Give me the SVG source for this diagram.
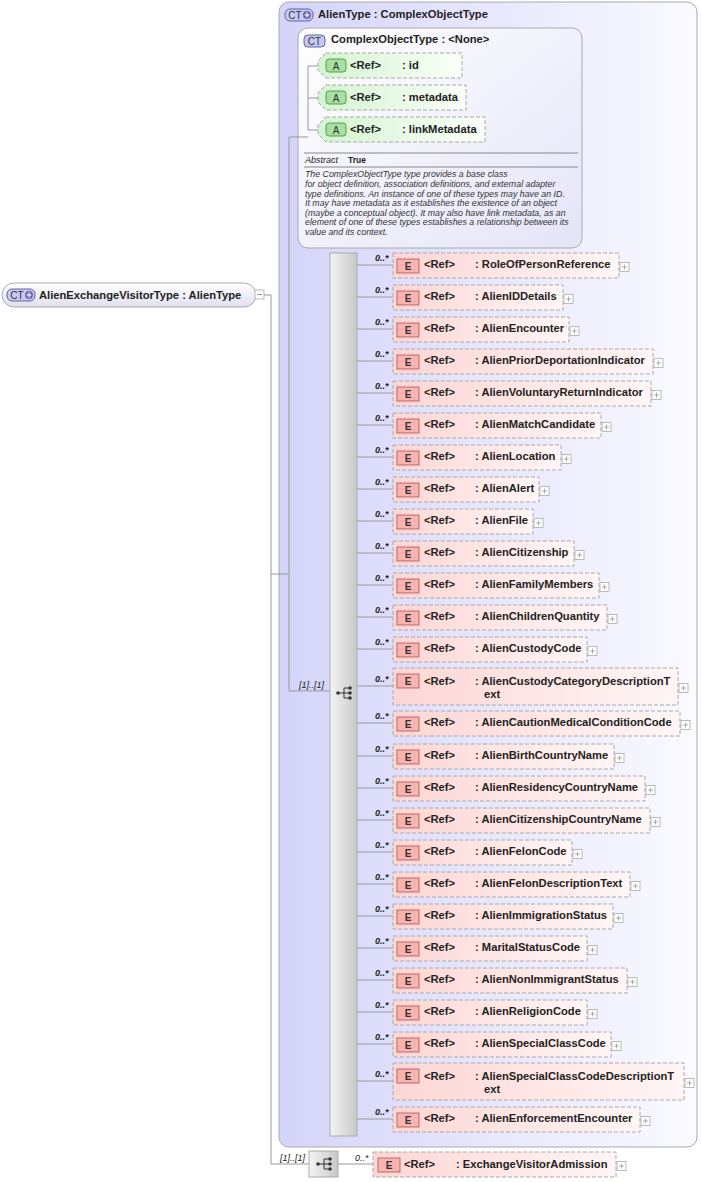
<svg xmlns="http://www.w3.org/2000/svg" width="701" height="1182" viewBox="0 0 701 1182">
<defs>
<linearGradient id="gOuter" x1="0" x2="1" y1="0" y2="0"><stop offset="0" stop-color="#d4d4fa"/><stop offset="1" stop-color="#fafaff"/></linearGradient>
<linearGradient id="gInner" x1="0" x2="1" y1="0" y2="1"><stop offset="0" stop-color="#ffffff"/><stop offset="1" stop-color="#e4e4f8"/></linearGradient>
<linearGradient id="gEl" x1="0" x2="1" y1="0" y2="0"><stop offset="0" stop-color="#fdd6d4"/><stop offset="1" stop-color="#fff6f5"/></linearGradient>
<linearGradient id="gAt" x1="0" x2="1" y1="0" y2="0"><stop offset="0" stop-color="#d4f4d0"/><stop offset="1" stop-color="#fafff8"/></linearGradient>
<linearGradient id="gSeq" x1="0" x2="1" y1="0" y2="0"><stop offset="0" stop-color="#f4f4f4"/><stop offset="1" stop-color="#c8c8c8"/></linearGradient>
<linearGradient id="gRoot" x1="0" x2="0" y1="0" y2="1"><stop offset="0" stop-color="#ffffff"/><stop offset="1" stop-color="#e0e0f0"/></linearGradient>
<g id="eIcon"><rect x="0" y="0" width="22" height="14" fill="#f8b4b0" stroke="#b05050" stroke-width="0.8"/><text x="11" y="11" class="ic">E</text></g>
<g id="plus"><rect x="0" y="-4.5" width="9" height="9" fill="#fff" stroke="#aaa" stroke-width="0.8"/><path d="M2 0h5M4.5 -2.5v5" stroke="#999" stroke-width="0.8"/></g>
<g id="seqIcon"><path d="M-7 0h6M-1 -5v10M-1 -5h5M-1 0h5M-1 5h5" stroke="#333" stroke-width="1" fill="none"/><circle cx="-7" cy="0" r="1.8" fill="#333"/><circle cx="5" cy="-5" r="1.8" fill="#333"/><circle cx="5" cy="0" r="1.8" fill="#333"/><circle cx="5" cy="5" r="1.8" fill="#333"/></g>
<g id="ctPlus"><rect x="0" y="0" width="28" height="12" rx="5" fill="#c8c8f4" stroke="#55559a" stroke-width="0.9"/><text x="10" y="10" class="ic">CT</text><circle cx="22" cy="6" r="4" fill="#6a6ab0"/><path d="M19.5 6h5M22 3.5v5" stroke="#fff" stroke-width="1.2"/></g>
</defs>
<style>
text{font-family:"Liberation Sans",Arial,sans-serif;fill:#222}
.b{font-size:11.2px;font-weight:bold}
.ic{font-size:10px;text-anchor:middle;fill:#333}
.m{font-size:9px;font-style:italic}
.d{font-size:8.8px;font-style:italic;fill:#333}
.el{fill:url(#gEl);stroke:#aaa;stroke-dasharray:4,2;stroke-width:1}
.at{fill:url(#gAt);stroke:#aaa;stroke-dasharray:4,2;stroke-width:1}
.ln{stroke:#999;stroke-width:1;fill:none}
</style>

<g id="AlienType">
<rect x="279" y="2" width="418" height="1145" rx="10" fill="url(#gOuter)" stroke="#aaa"/>
<use href="#ctPlus" x="285" y="9"/>
<text x="318" y="18" class="b">AlienType : ComplexObjectType</text>
</g>
<g id="ComplexObjectType">
<rect x="298" y="28" width="284" height="220" rx="10" fill="url(#gInner)" stroke="#aaa"/>
<rect x="304" y="35" width="21" height="12" rx="4" fill="#c8c8f4" stroke="#55559a" stroke-width="0.9"/><text x="314.5" y="45" class="ic">CT</text>
<text x="331" y="43" class="b">ComplexObjectType : &lt;None&gt;</text>
<line x1="304" y1="153" x2="578" y2="153" stroke="#888"/>
<text x="305" y="163" class="m">Abstract</text><text x="348" y="163" style="font-size:8.5px;font-weight:bold">True</text>
<line x1="304" y1="167" x2="578" y2="167" stroke="#888"/>
<text class="d"><tspan x="305" y="177">The ComplexObjectType type provides a base class</tspan><tspan x="305" y="187">for object definition, association definitions, and external adapter</tspan><tspan x="305" y="196.5">type definitions. An instance of one of these types may have an ID.</tspan><tspan x="305" y="206">It may have metadata as it establishes the existence of an object</tspan><tspan x="305" y="215.5">(maybe a conceptual object). It may also have link metadata, as an</tspan><tspan x="305" y="225">element of one of these types establishes a relationship between its</tspan><tspan x="305" y="234.5">value and its context.</tspan></text>
</g>
<g id="attr_id"><path class="at" d="M326 53H462V78H326L318 70V61Z"/><rect x="326" y="59" width="20" height="13" rx="3" fill="#a8e0a0" stroke="#3a8a3a" stroke-width="0.8"/><text x="336" y="70" class="ic">A</text><text x="350" y="69" class="b">&lt;Ref&gt;</text><text x="402" y="69" class="b">: id</text></g>
<g id="attr_metadata"><path class="at" d="M326 85H466V110H326L318 102V93Z"/><rect x="326" y="91" width="20" height="13" rx="3" fill="#a8e0a0" stroke="#3a8a3a" stroke-width="0.8"/><text x="336" y="102" class="ic">A</text><text x="350" y="101" class="b">&lt;Ref&gt;</text><text x="402" y="101" class="b">: metadata</text></g>
<g id="attr_linkMetadata"><path class="at" d="M326 117H485V142H326L318 134V125Z"/><rect x="326" y="123" width="20" height="13" rx="3" fill="#a8e0a0" stroke="#3a8a3a" stroke-width="0.8"/><text x="336" y="134" class="ic">A</text><text x="350" y="133" class="b">&lt;Ref&gt;</text><text x="402" y="133" class="b">: linkMetadata</text></g>

<g id="root">
<rect x="2" y="283" width="254" height="24" rx="12" fill="url(#gRoot)" stroke="#aaa"/>
<use href="#ctPlus" x="7" y="289"/>
<text x="39" y="299" class="b">AlienExchangeVisitorType : AlienType</text>
<rect x="255" y="290" width="9" height="9" fill="#fff" stroke="#aaa" stroke-width="0.8"/><path d="M257 294.5h5" stroke="#999"/>
</g>

<g id="sequence1">
<rect x="330" y="253" width="27" height="883" fill="url(#gSeq)" stroke="#aaa"/>
<use href="#seqIcon" x="345" y="693"/>
</g>
<g id="sequence2">
<rect x="309" y="1151" width="29" height="26" fill="url(#gSeq)" stroke="#aaa"/>
<use href="#seqIcon" x="325" y="1164"/>
</g>

<g id="connectors" class="ln">
<path d="M264 295H271V1164H309"/>
<path d="M271 574H289M289 137V691H330M289 137H308M308 66V130M308 66H318M308 98H318M308 130H318"/>
<path d="M338 1164H373"/>
<path d="M357 265H393M357 297H393M357 329H393M357 361H393M357 393H393M357 425H393M357 457H393M357 489H393M357 521H393M357 553H393M357 585H393M357 617H393M357 649H393M357 686H393M357 723H393M357 756H393M357 788H393M357 820H393M357 852H393M357 884H393M357 916H393M357 948H393M357 980H393M357 1012H393M357 1044H393M357 1081H393M357 1119H393"/>
</g>
<g id="labels">
<text x="299" y="688" class="m">[1]..[1]</text>
<text x="280" y="1161" class="m">[1]..[1]</text>
<text x="355" y="1161" class="m">0..*</text>
</g>

<g id="elements" class="b">
<g id="e1"><rect class="el" x="393" y="253" width="226" height="25"/><use href="#eIcon" x="397" y="259"/><text x="375" y="261" class="m">0..*</text><text x="424" y="268">&lt;Ref&gt;</text><text x="475" y="268">: RoleOfPersonReference</text><use href="#plus" x="620" y="267"/></g>
<g id="e2"><rect class="el" x="393" y="285" width="170" height="25"/><use href="#eIcon" x="397" y="291"/><text x="375" y="293" class="m">0..*</text><text x="424" y="300">&lt;Ref&gt;</text><text x="475" y="300">: AlienIDDetails</text><use href="#plus" x="564" y="299"/></g>
<g id="e3"><rect class="el" x="393" y="317" width="176" height="25"/><use href="#eIcon" x="397" y="323"/><text x="375" y="325" class="m">0..*</text><text x="424" y="332">&lt;Ref&gt;</text><text x="475" y="332">: AlienEncounter</text><use href="#plus" x="570" y="331"/></g>
<g id="e4"><rect class="el" x="393" y="349" width="260" height="25"/><use href="#eIcon" x="397" y="355"/><text x="375" y="357" class="m">0..*</text><text x="424" y="364">&lt;Ref&gt;</text><text x="475" y="364">: AlienPriorDeportationIndicator</text><use href="#plus" x="654" y="363"/></g>
<g id="e5"><rect class="el" x="393" y="381" width="258" height="25"/><use href="#eIcon" x="397" y="387"/><text x="375" y="389" class="m">0..*</text><text x="424" y="396">&lt;Ref&gt;</text><text x="475" y="396">: AlienVoluntaryReturnIndicator</text><use href="#plus" x="652" y="395"/></g>
<g id="e6"><rect class="el" x="393" y="413" width="208" height="25"/><use href="#eIcon" x="397" y="419"/><text x="375" y="421" class="m">0..*</text><text x="424" y="428">&lt;Ref&gt;</text><text x="475" y="428">: AlienMatchCandidate</text><use href="#plus" x="602" y="427"/></g>
<g id="e7"><rect class="el" x="393" y="445" width="168" height="25"/><use href="#eIcon" x="397" y="451"/><text x="375" y="453" class="m">0..*</text><text x="424" y="460">&lt;Ref&gt;</text><text x="475" y="460">: AlienLocation</text><use href="#plus" x="562" y="459"/></g>
<g id="e8"><rect class="el" x="393" y="477" width="146" height="25"/><use href="#eIcon" x="397" y="483"/><text x="375" y="485" class="m">0..*</text><text x="424" y="492">&lt;Ref&gt;</text><text x="475" y="492">: AlienAlert</text><use href="#plus" x="540" y="491"/></g>
<g id="e9"><rect class="el" x="393" y="509" width="140" height="25"/><use href="#eIcon" x="397" y="515"/><text x="375" y="517" class="m">0..*</text><text x="424" y="524">&lt;Ref&gt;</text><text x="475" y="524">: AlienFile</text><use href="#plus" x="534" y="523"/></g>
<g id="e10"><rect class="el" x="393" y="541" width="181" height="25"/><use href="#eIcon" x="397" y="547"/><text x="375" y="549" class="m">0..*</text><text x="424" y="556">&lt;Ref&gt;</text><text x="475" y="556">: AlienCitizenship</text><use href="#plus" x="575" y="555"/></g>
<g id="e11"><rect class="el" x="393" y="573" width="206" height="25"/><use href="#eIcon" x="397" y="579"/><text x="375" y="581" class="m">0..*</text><text x="424" y="588">&lt;Ref&gt;</text><text x="475" y="588">: AlienFamilyMembers</text><use href="#plus" x="600" y="587"/></g>
<g id="e12"><rect class="el" x="393" y="605" width="214" height="25"/><use href="#eIcon" x="397" y="611"/><text x="375" y="613" class="m">0..*</text><text x="424" y="620">&lt;Ref&gt;</text><text x="475" y="620">: AlienChildrenQuantity</text><use href="#plus" x="608" y="619"/></g>
<g id="e13"><rect class="el" x="393" y="637" width="194" height="25"/><use href="#eIcon" x="397" y="643"/><text x="375" y="645" class="m">0..*</text><text x="424" y="652">&lt;Ref&gt;</text><text x="475" y="652">: AlienCustodyCode</text><use href="#plus" x="588" y="651"/></g>
<g id="e14"><rect class="el" x="393" y="668" width="285" height="37"/><use href="#eIcon" x="397" y="674"/><text x="375" y="682" class="m">0..*</text><text x="424" y="685">&lt;Ref&gt;</text><text x="475" y="685">: AlienCustodyCategoryDescriptionT</text><text x="484" y="698">ext</text><use href="#plus" x="679" y="688"/></g>
<g id="e15"><rect class="el" x="393" y="711" width="287" height="25"/><use href="#eIcon" x="397" y="717"/><text x="375" y="719" class="m">0..*</text><text x="424" y="726">&lt;Ref&gt;</text><text x="475" y="726">: AlienCautionMedicalConditionCode</text><use href="#plus" x="681" y="725"/></g>
<g id="e16"><rect class="el" x="393" y="744" width="221" height="25"/><use href="#eIcon" x="397" y="750"/><text x="375" y="752" class="m">0..*</text><text x="424" y="759">&lt;Ref&gt;</text><text x="475" y="759">: AlienBirthCountryName</text><use href="#plus" x="615" y="758"/></g>
<g id="e17"><rect class="el" x="393" y="776" width="252" height="25"/><use href="#eIcon" x="397" y="782"/><text x="375" y="784" class="m">0..*</text><text x="424" y="791">&lt;Ref&gt;</text><text x="475" y="791">: AlienResidencyCountryName</text><use href="#plus" x="646" y="790"/></g>
<g id="e18"><rect class="el" x="393" y="808" width="257" height="25"/><use href="#eIcon" x="397" y="814"/><text x="375" y="816" class="m">0..*</text><text x="424" y="823">&lt;Ref&gt;</text><text x="475" y="823">: AlienCitizenshipCountryName</text><use href="#plus" x="651" y="822"/></g>
<g id="e19"><rect class="el" x="393" y="840" width="179" height="25"/><use href="#eIcon" x="397" y="846"/><text x="375" y="848" class="m">0..*</text><text x="424" y="855">&lt;Ref&gt;</text><text x="475" y="855">: AlienFelonCode</text><use href="#plus" x="573" y="854"/></g>
<g id="e20"><rect class="el" x="393" y="872" width="237" height="25"/><use href="#eIcon" x="397" y="878"/><text x="375" y="880" class="m">0..*</text><text x="424" y="887">&lt;Ref&gt;</text><text x="475" y="887">: AlienFelonDescriptionText</text><use href="#plus" x="631" y="886"/></g>
<g id="e21"><rect class="el" x="393" y="904" width="220" height="25"/><use href="#eIcon" x="397" y="910"/><text x="375" y="912" class="m">0..*</text><text x="424" y="919">&lt;Ref&gt;</text><text x="475" y="919">: AlienImmigrationStatus</text><use href="#plus" x="614" y="918"/></g>
<g id="e22"><rect class="el" x="393" y="936" width="194" height="25"/><use href="#eIcon" x="397" y="942"/><text x="375" y="944" class="m">0..*</text><text x="424" y="951">&lt;Ref&gt;</text><text x="475" y="951">: MaritalStatusCode</text><use href="#plus" x="588" y="950"/></g>
<g id="e23"><rect class="el" x="393" y="968" width="234" height="25"/><use href="#eIcon" x="397" y="974"/><text x="375" y="976" class="m">0..*</text><text x="424" y="983">&lt;Ref&gt;</text><text x="475" y="983">: AlienNonImmigrantStatus</text><use href="#plus" x="628" y="982"/></g>
<g id="e24"><rect class="el" x="393" y="1000" width="194" height="25"/><use href="#eIcon" x="397" y="1006"/><text x="375" y="1008" class="m">0..*</text><text x="424" y="1015">&lt;Ref&gt;</text><text x="475" y="1015">: AlienReligionCode</text><use href="#plus" x="588" y="1014"/></g>
<g id="e25"><rect class="el" x="393" y="1032" width="218" height="25"/><use href="#eIcon" x="397" y="1038"/><text x="375" y="1040" class="m">0..*</text><text x="424" y="1047">&lt;Ref&gt;</text><text x="475" y="1047">: AlienSpecialClassCode</text><use href="#plus" x="612" y="1046"/></g>
<g id="e26"><rect class="el" x="393" y="1063" width="291" height="37"/><use href="#eIcon" x="397" y="1069"/><text x="375" y="1077" class="m">0..*</text><text x="424" y="1080">&lt;Ref&gt;</text><text x="475" y="1080">: AlienSpecialClassCodeDescriptionT</text><text x="484" y="1093">ext</text><use href="#plus" x="685" y="1083"/></g>
<g id="e27"><rect class="el" x="393" y="1107" width="247" height="25"/><use href="#eIcon" x="397" y="1113"/><text x="375" y="1115" class="m">0..*</text><text x="424" y="1122">&lt;Ref&gt;</text><text x="475" y="1122">: AlienEnforcementEncounter</text><use href="#plus" x="641" y="1121"/></g>
<g id="e28"><rect class="el" x="373" y="1152" width="243" height="25"/><use href="#eIcon" x="378" y="1158"/><text x="404" y="1168">&lt;Ref&gt;</text><text x="456" y="1168">: ExchangeVisitorAdmission</text><use href="#plus" x="617" y="1166"/></g>
</g>
</svg>
